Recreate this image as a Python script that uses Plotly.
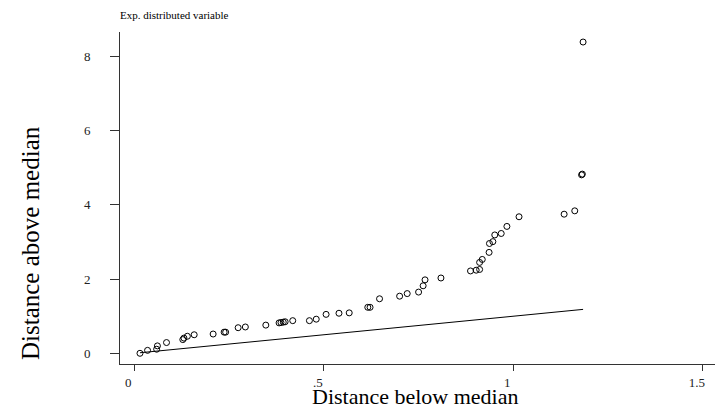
import numpy as np
import plotly.graph_objects as go

# Symmetry plot: distance below the median vs. distance above the median
below = np.array([
    0.015, 0.035, 0.059, 0.061, 0.085, 0.128, 0.131, 0.140, 0.158, 0.208,
    0.237, 0.241, 0.274, 0.293, 0.347, 0.382, 0.387, 0.393, 0.398, 0.418,
    0.462, 0.480, 0.506, 0.540, 0.567, 0.616, 0.622, 0.647, 0.700, 0.720,
    0.750, 0.762, 0.767, 0.809, 0.887, 0.902, 0.911, 0.911, 0.918, 0.936,
    0.937, 0.946, 0.951, 0.968, 0.983, 1.015, 1.134, 1.162, 1.180, 1.182,
    1.184,
])
above = np.array([
    0.00, 0.08, 0.11, 0.20, 0.29, 0.37, 0.41, 0.46, 0.50, 0.52,
    0.57, 0.57, 0.69, 0.71, 0.76, 0.82, 0.83, 0.84, 0.85, 0.88,
    0.88, 0.92, 1.05, 1.08, 1.09, 1.24, 1.24, 1.47, 1.54, 1.61,
    1.65, 1.82, 1.98, 2.03, 2.22, 2.24, 2.26, 2.45, 2.53, 2.72,
    2.96, 3.01, 3.19, 3.23, 3.42, 3.68, 3.75, 3.84, 4.81, 4.83,
    8.39,
])

x_ticks = [0, 0.5, 1, 1.5]
x_labels = ["0", ".5", "1", "1.5"]
y_ticks = [0, 2, 4, 6, 8]
y_labels = ["0", "2", "4", "6", "8"]

FONT = "Liberation Serif"

fig = go.Figure()

# Reference line of perfect symmetry (y = x)
ref_x = np.sort(below)
fig.add_trace(go.Scatter(
    x=ref_x, y=ref_x, mode="lines",
    line=dict(color="black", width=1),
    hoverinfo="skip", showlegend=False,
))

fig.add_trace(go.Scatter(
    x=below, y=above, mode="markers",
    marker=dict(symbol="circle-open", size=6, color="black",
                line=dict(width=1, color="black")),
    showlegend=False,
))

fig.update_layout(
    width=715, height=409,
    margin=dict(l=120, r=0, t=32, b=45),
    plot_bgcolor="white", paper_bgcolor="white",
    font=dict(family=FONT, color="black"),
    title=dict(
        text="Exp. distributed variable",
        font=dict(family=FONT, size=11, color="black"),
        x=120 / 715, xref="container", xanchor="left",
        y=1 - 15 / 409, yref="container", yanchor="middle",
    ),
    xaxis=dict(
        range=[-0.0377, 1.532],
        tickvals=x_ticks, ticktext=x_labels,
        ticks="outside", ticklen=6, tickcolor="#333",
        showline=True, linecolor="#333", linewidth=1,
        showgrid=False, zeroline=False,
        tickfont=dict(family=FONT, size=13, color="#222"),
        ticklabelshift=-6, ticklabelstandoff=0,
    ),
    yaxis=dict(
        range=[-0.288, 8.66],
        tickvals=y_ticks, ticktext=y_labels,
        ticks="outside", ticklen=9, tickcolor="#333",
        showline=True, linecolor="#333", linewidth=1,
        showgrid=False, zeroline=False,
        tickfont=dict(family=FONT, size=13, color="#222"),
        ticklabelstandoff=17,
    ),
    annotations=[
        dict(text="Distance below median", xref="paper", yref="paper",
             x=0.497, y=(364 - 396) / 332, xanchor="center", yanchor="middle",
             showarrow=False, font=dict(family=FONT, size=22, color="black")),
        dict(text="Distance above median", xref="paper", yref="paper",
             x=(30 - 120) / 595, y=(364 - 243) / 332, xanchor="center",
             yanchor="middle", textangle=-90,
             showarrow=False, font=dict(family=FONT, size=25, color="black")),
    ],
)

fig.write_html("out.html")
